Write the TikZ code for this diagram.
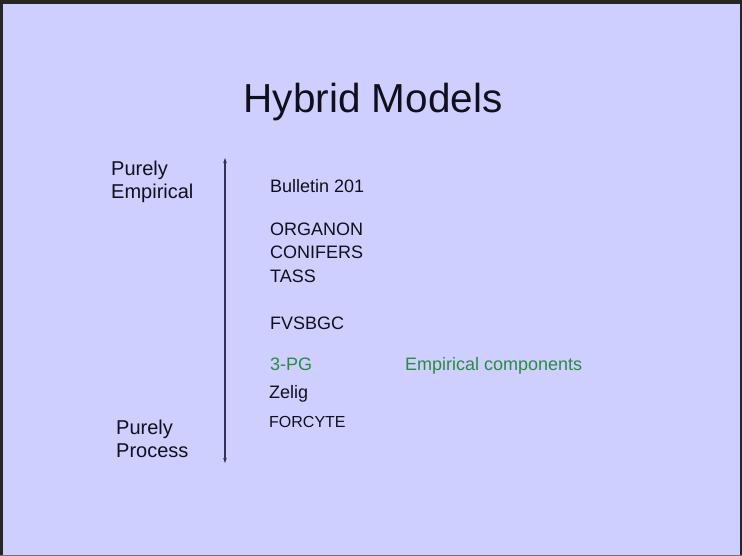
\documentclass[tikz,border=0pt]{standalone}
\usepackage{fontspec}
\setmainfont{Liberation Sans}
\usepackage{xcolor}
\usepackage{tikz}
\usetikzlibrary{arrows.meta,positioning}
\definecolor{fundo}{RGB}{206,206,255}
\definecolor{verdeescuro}{RGB}{42,140,62}
\definecolor{tinta}{RGB}{16,16,28}
\definecolor{azulescuro}{RGB}{50,50,85}
\tikzset{
    heading/.style={
        anchor=base,
        inner sep=0pt,
        text=tinta,
        font=\fontsize{40.5}{46}\selectfont
    },
    endtext/.style={
        anchor=base west,
        inner sep=0pt,
        align=left,
        text=tinta,
        font=\fontsize{20}{23}\selectfont
    },
    modelname/.style={
        anchor=base west,
        inner sep=0pt,
        text=tinta,
        font=\fontsize{18}{22}\selectfont
    },
    greentext/.style={modelname, text=verdeescuro},
    scalearrow/.style={{Stealth[length=5pt,width=3.5pt]}-{Stealth[length=5pt,width=3.5pt]}, line width=1.2pt, draw=azulescuro}
}

\begin{document}
\begin{tikzpicture}[x=1pt,y=-1pt]

    % slide background and frame
    \fill[fundo] (0,0) rectangle (742,556);
    \useasboundingbox (0,0) rectangle (742,556);
    \draw[line width=4pt, black!85] (0,2) -- (742,2);
    \draw[line width=3pt, black!85] (1.5,0) -- (1.5,556);
    \draw[line width=2.5pt, black!85] (740.75,0) -- (740.75,556);
    \draw[line width=1.2pt, black!55] (0,555.4) -- (742,555.4);

    \node[heading] (title) at (373,113) {Hybrid Models};

    % base of a two-line node sits on its last line
    \node[endtext] (empirical) at (111,199) {Purely\\Empirical};
    \node[endtext] (process) at (116,457.5) {Purely\\Process};

    \coordinate (scaletop) at (225,158);
    \coordinate (scalebot) at (225,463);
    \draw[scalearrow] (scaletop) -- (scalebot);

    \node[modelname] (bulletin) at (270,192.5) {Bulletin 201};
    \node[modelname] (organon) at (270,235.5) {ORGANON};
    \node[modelname] (conifers) at (270,259) {CONIFERS};
    \node[modelname] (tass) at (270,282.5) {TASS};
    \node[modelname] (fvs) at (270,329) {FVSBGC};
    \node[greentext] (pg) at (270,370.5) {3-PG};
    \node[greentext] (comp) at (405,370.5) {Empirical components};
    \node[modelname] (zelig) at (269,398) {Zelig};
    \node[modelname, font=\fontsize{16}{20}\selectfont] (forcyte) at (269,427) {FORCYTE};

\end{tikzpicture}
\end{document}
